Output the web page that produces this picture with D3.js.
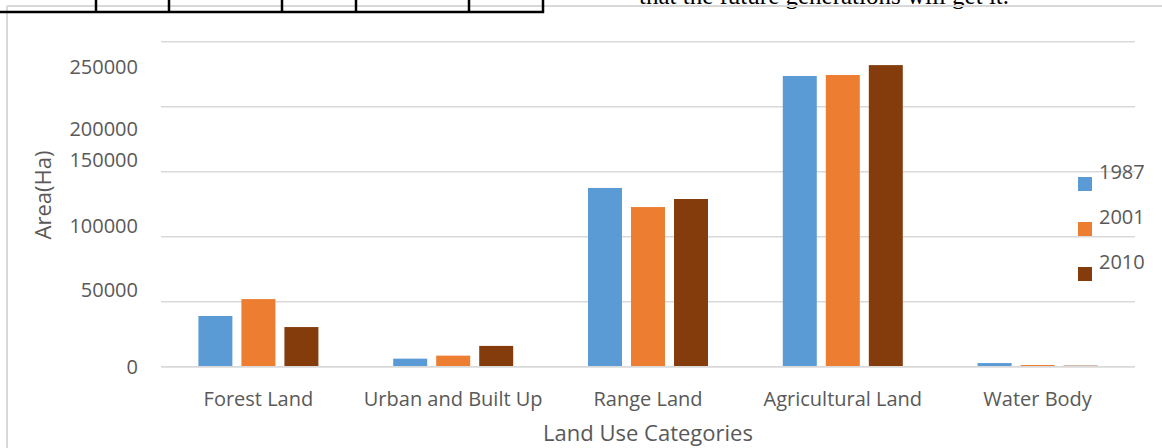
<!DOCTYPE html>
<html>
<head>
<meta charset="utf-8">
<script src="https://cdn.jsdelivr.net/npm/d3@7"></script>
<style>
  html, body { margin: 0; padding: 0; background: #fff; }
  svg { display: block; }
</style>
</head>
<body>
<svg id="chart" width="1162" height="448"></svg>
<script>
// Land use area by category and survey year (hectares)
const categories = ["Forest Land", "Urban and Built Up", "Range Land", "Agricultural Land", "Water Body"];
const years = ["1987", "2001", "2010"];
const area1987 = [39000, 6200, 137500, 223600, 2800];
const area2001 = [52000, 8500, 122800, 224400, 1300];
const area2010 = [30500, 16000, 129000, 232000, 800];
const yTickValues = [0, 50000, 100000, 150000, 200000, 250000];
const yearColors = ["#5b9bd5", "#ed7d31", "#843c0c"];

const seriesByYear = [area1987, area2001, area2010];
const rows = categories.map((c, i) => ({
  category: c,
  values: years.map((y, j) => ({ year: y, value: seriesByYear[j][i] }))
}));

const svg = d3.select("#chart");
const W = 1162, H = 448;
const plot = { left: 161, right: 1135, top: 41.7, bottom: 366.7 };

const grey = "#d9d9d9";
const textGrey = "#595959";
const font = "'Open Sans', 'Noto Sans', sans-serif";

// Page fragments around the chart: table edge, running text, chart frame
const page = svg.append("g");
page.append("text")
  .attr("x", 639).attr("y", 4)
  .attr("font-family", "'Liberation Serif', 'Times New Roman', serif")
  .attr("font-size", 25).attr("fill", "#000")
  .text("that the future generations will get it.");
page.append("line")
  .attr("x1", 7).attr("x2", W).attr("y1", 6).attr("y2", 6)
  .attr("stroke", grey).attr("stroke-width", 2);
page.append("line")
  .attr("x1", 7).attr("x2", 7).attr("y1", 6).attr("y2", H)
  .attr("stroke", grey).attr("stroke-width", 2);
const tableCols = [96, 169, 282, 356, 469, 543];
page.append("line")
  .attr("x1", 0).attr("x2", 544).attr("y1", 12).attr("y2", 12)
  .attr("stroke", "#000").attr("stroke-width", 2.5);
page.selectAll("line.col").data(tableCols).join("line")
  .attr("class", "col")
  .attr("x1", d => d).attr("x2", d => d).attr("y1", 0).attr("y2", 13)
  .attr("stroke", "#000").attr("stroke-width", 2.5);

// Scales
const x0 = d3.scaleBand()
  .domain(categories)
  .range([plot.left, plot.right])
  .paddingInner(0.384)
  .paddingOuter(0.192);
const x1 = d3.scaleBand()
  .domain(years)
  .range([0, x0.bandwidth()])
  .paddingInner(0.21);
const y = d3.scaleLinear()
  .domain([0, 250000])
  .range([plot.bottom, plot.top]);
const color = d3.scaleOrdinal().domain(years).range(yearColors);

// Horizontal gridlines
svg.append("g")
  .selectAll("line")
  .data(yTickValues)
  .join("line")
  .attr("x1", plot.left).attr("x2", plot.right)
  .attr("y1", d => y(d)).attr("y2", d => y(d))
  .attr("stroke", grey).attr("stroke-width", 1.5);

// Y axis labels (vertical nudges reproduce the label layout of the original figure)
const yLabelNudge = { 0: 0, 50000: -12, 100000: -11, 150000: -12, 200000: 22, 250000: 25 };
const yAxis = svg.append("g")
  .attr("transform", `translate(${plot.left},0)`)
  .call(d3.axisLeft(y).tickValues(yTickValues).tickFormat(d3.format("d")).tickSize(0).tickPadding(23));
yAxis.select(".domain").remove();
yAxis.selectAll("text")
  .attr("font-family", font).attr("font-size", 20).attr("fill", textGrey)
  .attr("dy", d => (yLabelNudge[d] + 7) + "px");

// Bars
svg.append("g")
  .selectAll("g")
  .data(rows)
  .join("g")
  .attr("transform", d => `translate(${x0(d.category)},0)`)
  .selectAll("rect")
  .data(d => d.values)
  .join("rect")
  .attr("x", d => x1(d.year))
  .attr("width", x1.bandwidth())
  .attr("y", d => y(d.value))
  .attr("height", d => y(0) - y(d.value))
  .attr("fill", d => color(d.year));

// X axis
const xAxis = svg.append("g")
  .attr("transform", `translate(0,${plot.bottom})`)
  .call(d3.axisBottom(x0).tickSize(0).tickPadding(0));
xAxis.select(".domain").remove();
xAxis.selectAll("text")
  .attr("font-family", font).attr("font-size", 20).attr("fill", textGrey)
  .attr("dy", "39px");
svg.append("line")
  .attr("x1", plot.left).attr("x2", plot.right)
  .attr("y1", y(0)).attr("y2", y(0))
  .attr("stroke", grey).attr("stroke-width", 1.5);

// Axis titles
svg.append("text")
  .attr("x", (plot.left + plot.right) / 2).attr("y", 441)
  .attr("text-anchor", "middle")
  .attr("font-family", font).attr("font-size", 22).attr("fill", textGrey)
  .text("Land Use Categories");
svg.append("text")
  .attr("transform", "translate(51,195) rotate(-90)")
  .attr("text-anchor", "middle")
  .attr("font-family", font).attr("font-size", 22).attr("fill", textGrey)
  .text("Area(Ha)");

// Legend
const legend = svg.append("g")
  .selectAll("g")
  .data(years)
  .join("g")
  .attr("transform", (d, i) => `translate(1078,${177 + i * 45})`);
legend.append("rect")
  .attr("width", 14).attr("height", 14)
  .attr("fill", d => color(d));
legend.append("text")
  .attr("x", 21).attr("y", 2)
  .attr("font-family", font).attr("font-size", 20).attr("fill", textGrey)
  .text(d => d);
</script>
</body>
</html>
